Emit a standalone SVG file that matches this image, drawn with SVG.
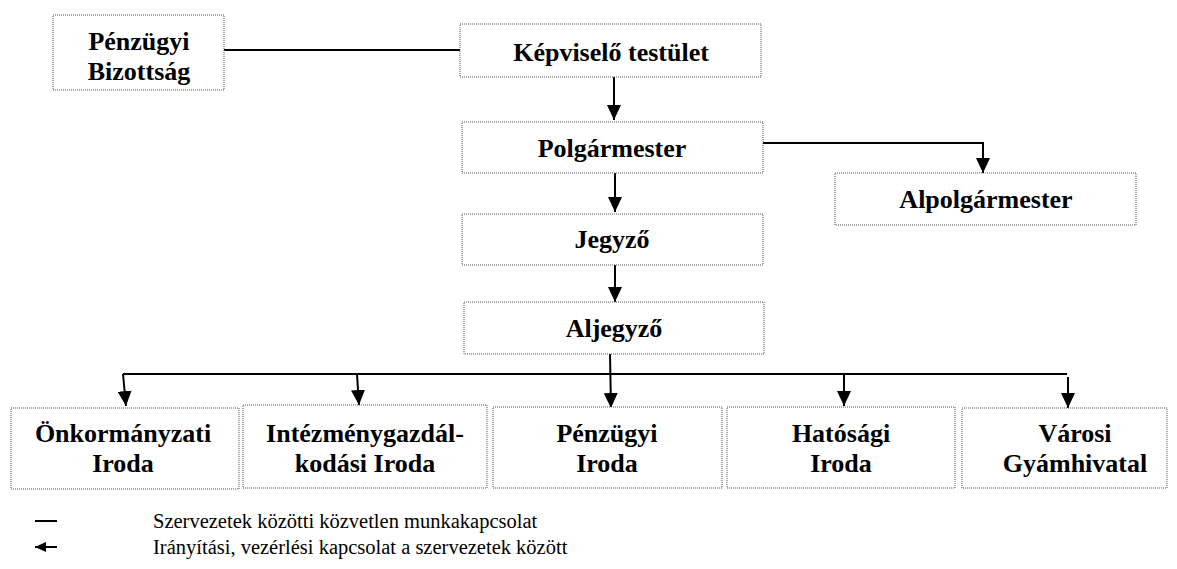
<svg xmlns="http://www.w3.org/2000/svg" width="1177" height="569" viewBox="0 0 1177 569">
<style>
.box{fill:#fff;stroke:#555;stroke-width:1;stroke-dasharray:1 1}
.t{font-family:'Liberation Serif','Tinos','DejaVu Serif','Noto Serif','Times New Roman',serif;font-weight:700;font-size:26px;fill:#000;text-anchor:middle}
.lg{font-family:'Liberation Serif','Tinos','DejaVu Serif','Noto Serif','Times New Roman',serif;font-size:20.5px;fill:#000}
.c{fill:none;stroke:#000;stroke-width:2}
.a{fill:none;stroke:#000;stroke-width:2;marker-end:url(#ah)}
</style>
<defs>
<marker id="ah" viewBox="0 0 15 14" refX="15" refY="7" markerWidth="15" markerHeight="14" markerUnits="userSpaceOnUse" orient="auto">
<path d="M0,0 L15,7 L0,14 Z" fill="#000"/>
</marker>
<clipPath id="cpb"><rect x="53" y="15" width="171" height="75"/></clipPath>
</defs>
<rect width="1177" height="569" fill="#fff"/>
<g id="connectors">
<line class="c" x1="224" y1="50" x2="460" y2="50"/>
<line class="a" x1="614" y1="77" x2="614" y2="120"/>
<path class="a" d="M763,143 H983 V173"/>
<line class="a" x1="615" y1="173" x2="615" y2="212"/>
<line class="a" x1="615" y1="265" x2="615" y2="302"/>
<line class="a" x1="610" y1="354" x2="611" y2="408"/>
<line class="c" x1="123" y1="374" x2="1067" y2="374"/>
<line class="a" x1="123" y1="374" x2="126" y2="406"/>
<line class="a" x1="357" y1="374" x2="359" y2="405"/>
<line class="a" x1="844" y1="374" x2="844" y2="406"/>
<line class="a" x1="1068" y1="377" x2="1068" y2="408"/>
</g>
<g id="penzugyi-bizottsag">
<rect class="box" x="53" y="15" width="171" height="75"/>
<g clip-path="url(#cpb)">
<text class="t" x="139" y="50" font-family="Liberation Serif, serif">Pénzügyi</text>
<text class="t" x="139" y="80" font-family="Liberation Serif, serif">Bizottság</text>
</g>
</g>
<g id="kepviselo-testulet">
<rect class="box" x="460" y="24" width="301" height="53"/>
<text class="t" x="611" y="61">Képviselő testület</text>
</g>
<g id="polgarmester">
<rect class="box" x="462" y="122" width="301" height="51"/>
<text class="t" x="612" y="157">Polgármester</text>
</g>
<g id="alpolgarmester">
<rect class="box" x="835" y="173" width="301" height="52"/>
<text class="t" x="986" y="208">Alpolgármester</text>
</g>
<g id="jegyzo">
<rect class="box" x="462" y="214" width="301" height="51"/>
<text class="t" x="612" y="248">Jegyző</text>
</g>
<g id="aljegyzo">
<rect class="box" x="464" y="302" width="300" height="52"/>
<text class="t" x="614" y="337">Aljegyző</text>
</g>
<g id="onkormanyzati-iroda">
<rect class="box" x="11" y="408" width="228" height="81"/>
<text class="t" x="123" y="442">Önkormányzati</text>
<text class="t" x="123" y="472">Iroda</text>
</g>
<g id="intezmenygazdalkodasi-iroda">
<rect class="box" x="243" y="405" width="244" height="83"/>
<text class="t" x="365" y="442">Intézménygazdál-</text>
<text class="t" x="365" y="472">kodási Iroda</text>
</g>
<g id="penzugyi-iroda">
<rect class="box" x="493" y="407" width="229" height="81"/>
<text class="t" x="607" y="442">Pénzügyi</text>
<text class="t" x="607" y="472">Iroda</text>
</g>
<g id="hatosagi-iroda">
<rect class="box" x="727" y="407" width="228" height="81"/>
<text class="t" x="841" y="442">Hatósági</text>
<text class="t" x="841" y="472">Iroda</text>
</g>
<g id="varosi-gyamhivatal">
<rect class="box" x="962" y="408" width="205" height="80"/>
<text class="t" x="1075" y="442">Városi</text>
<text class="t" x="1075" y="472">Gyámhivatal</text>
</g>
<g id="legend">
<line x1="35" y1="521" x2="57" y2="521" stroke="#000" stroke-width="2"/>
<line x1="57" y1="547" x2="35" y2="547" stroke="#000" stroke-width="2"/>
<path d="M35,547 L46,542 L46,552 Z" fill="#000"/>
<text class="lg" x="153" y="528">Szervezetek közötti közvetlen munkakapcsolat</text>
<text class="lg" x="153" y="554">Irányítási, vezérlési kapcsolat a szervezetek között</text>
</g>
</svg>
